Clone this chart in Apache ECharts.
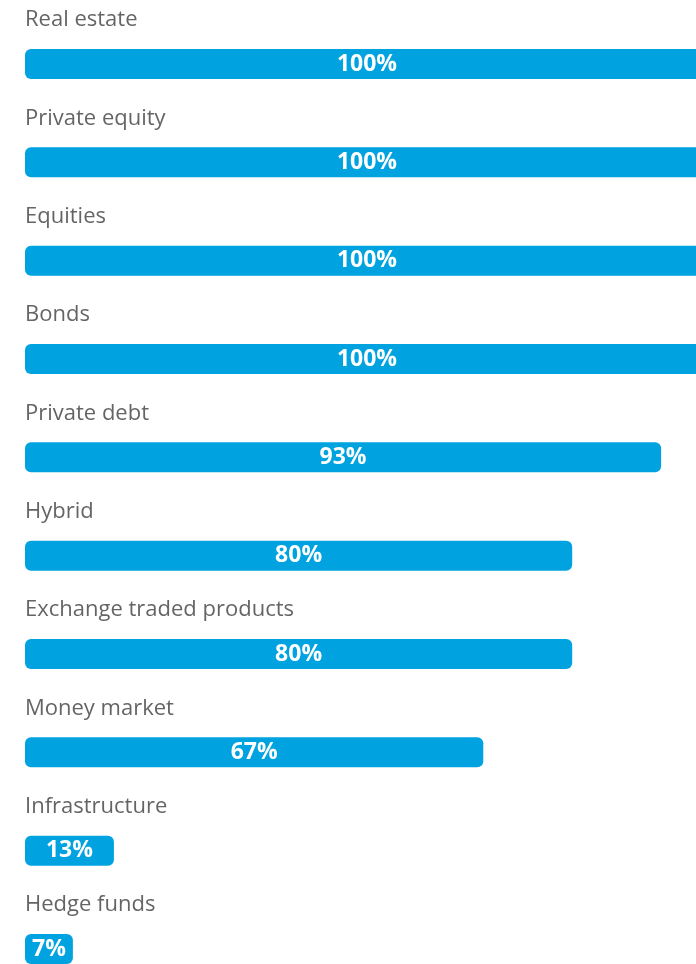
<!DOCTYPE html>
<html>
<head>
<meta charset="utf-8">
<script src="https://cdn.jsdelivr.net/npm/echarts@6/dist/echarts.min.js"></script>
<style>
  html, body { margin: 0; padding: 0; background: #fff; }
  #chart { width: 696px; height: 964px; }
</style>
</head>
<body>
<div id="chart"></div>
<script>
const categories = ['Real estate', 'Private equity', 'Equities', 'Bonds', 'Private debt',
  'Hybrid', 'Exchange traded products', 'Money market', 'Infrastructure', 'Hedge funds'];
const values = [100, 100, 100, 100, 93, 80, 80, 67, 13, 7];

const myChart = echarts.init(document.getElementById('chart'));
myChart.setOption({
  animation: false,
  // 100% bars run past the right edge of the picture
  grid: { left: 25, right: 0, top: 64, bottom: 15 },
  xAxis: { type: 'value', min: 0, max: 100 * 671 / 684, show: false },
  yAxis: {
    type: 'category',
    inverse: true,
    boundaryGap: false,
    data: categories,
    show: false
  },
  series: [{
    type: 'bar',
    data: values,
    barWidth: 30,
    clip: false,
    itemStyle: { color: '#00a3e0', borderRadius: 6 },
    label: {
      show: true,
      position: 'inside',
      formatter: '{c}%',
      color: '#fff',
      fontFamily: 'Open Sans',
      fontWeight: 'bold',
      fontSize: 23
    }
  }, {
    // category names sit above each bar
    type: 'scatter',
    data: categories.map(c => [0, c]),
    symbolSize: 0,
    clip: false,
    silent: true,
    label: {
      show: true,
      position: 'right',
      distance: 0,
      offset: [0, -44],
      formatter: p => p.value[1],
      color: '#3d3d3d',
      fontFamily: 'Open Sans',
      fontSize: 22
    }
  }]
});
</script>
</body>
</html>
